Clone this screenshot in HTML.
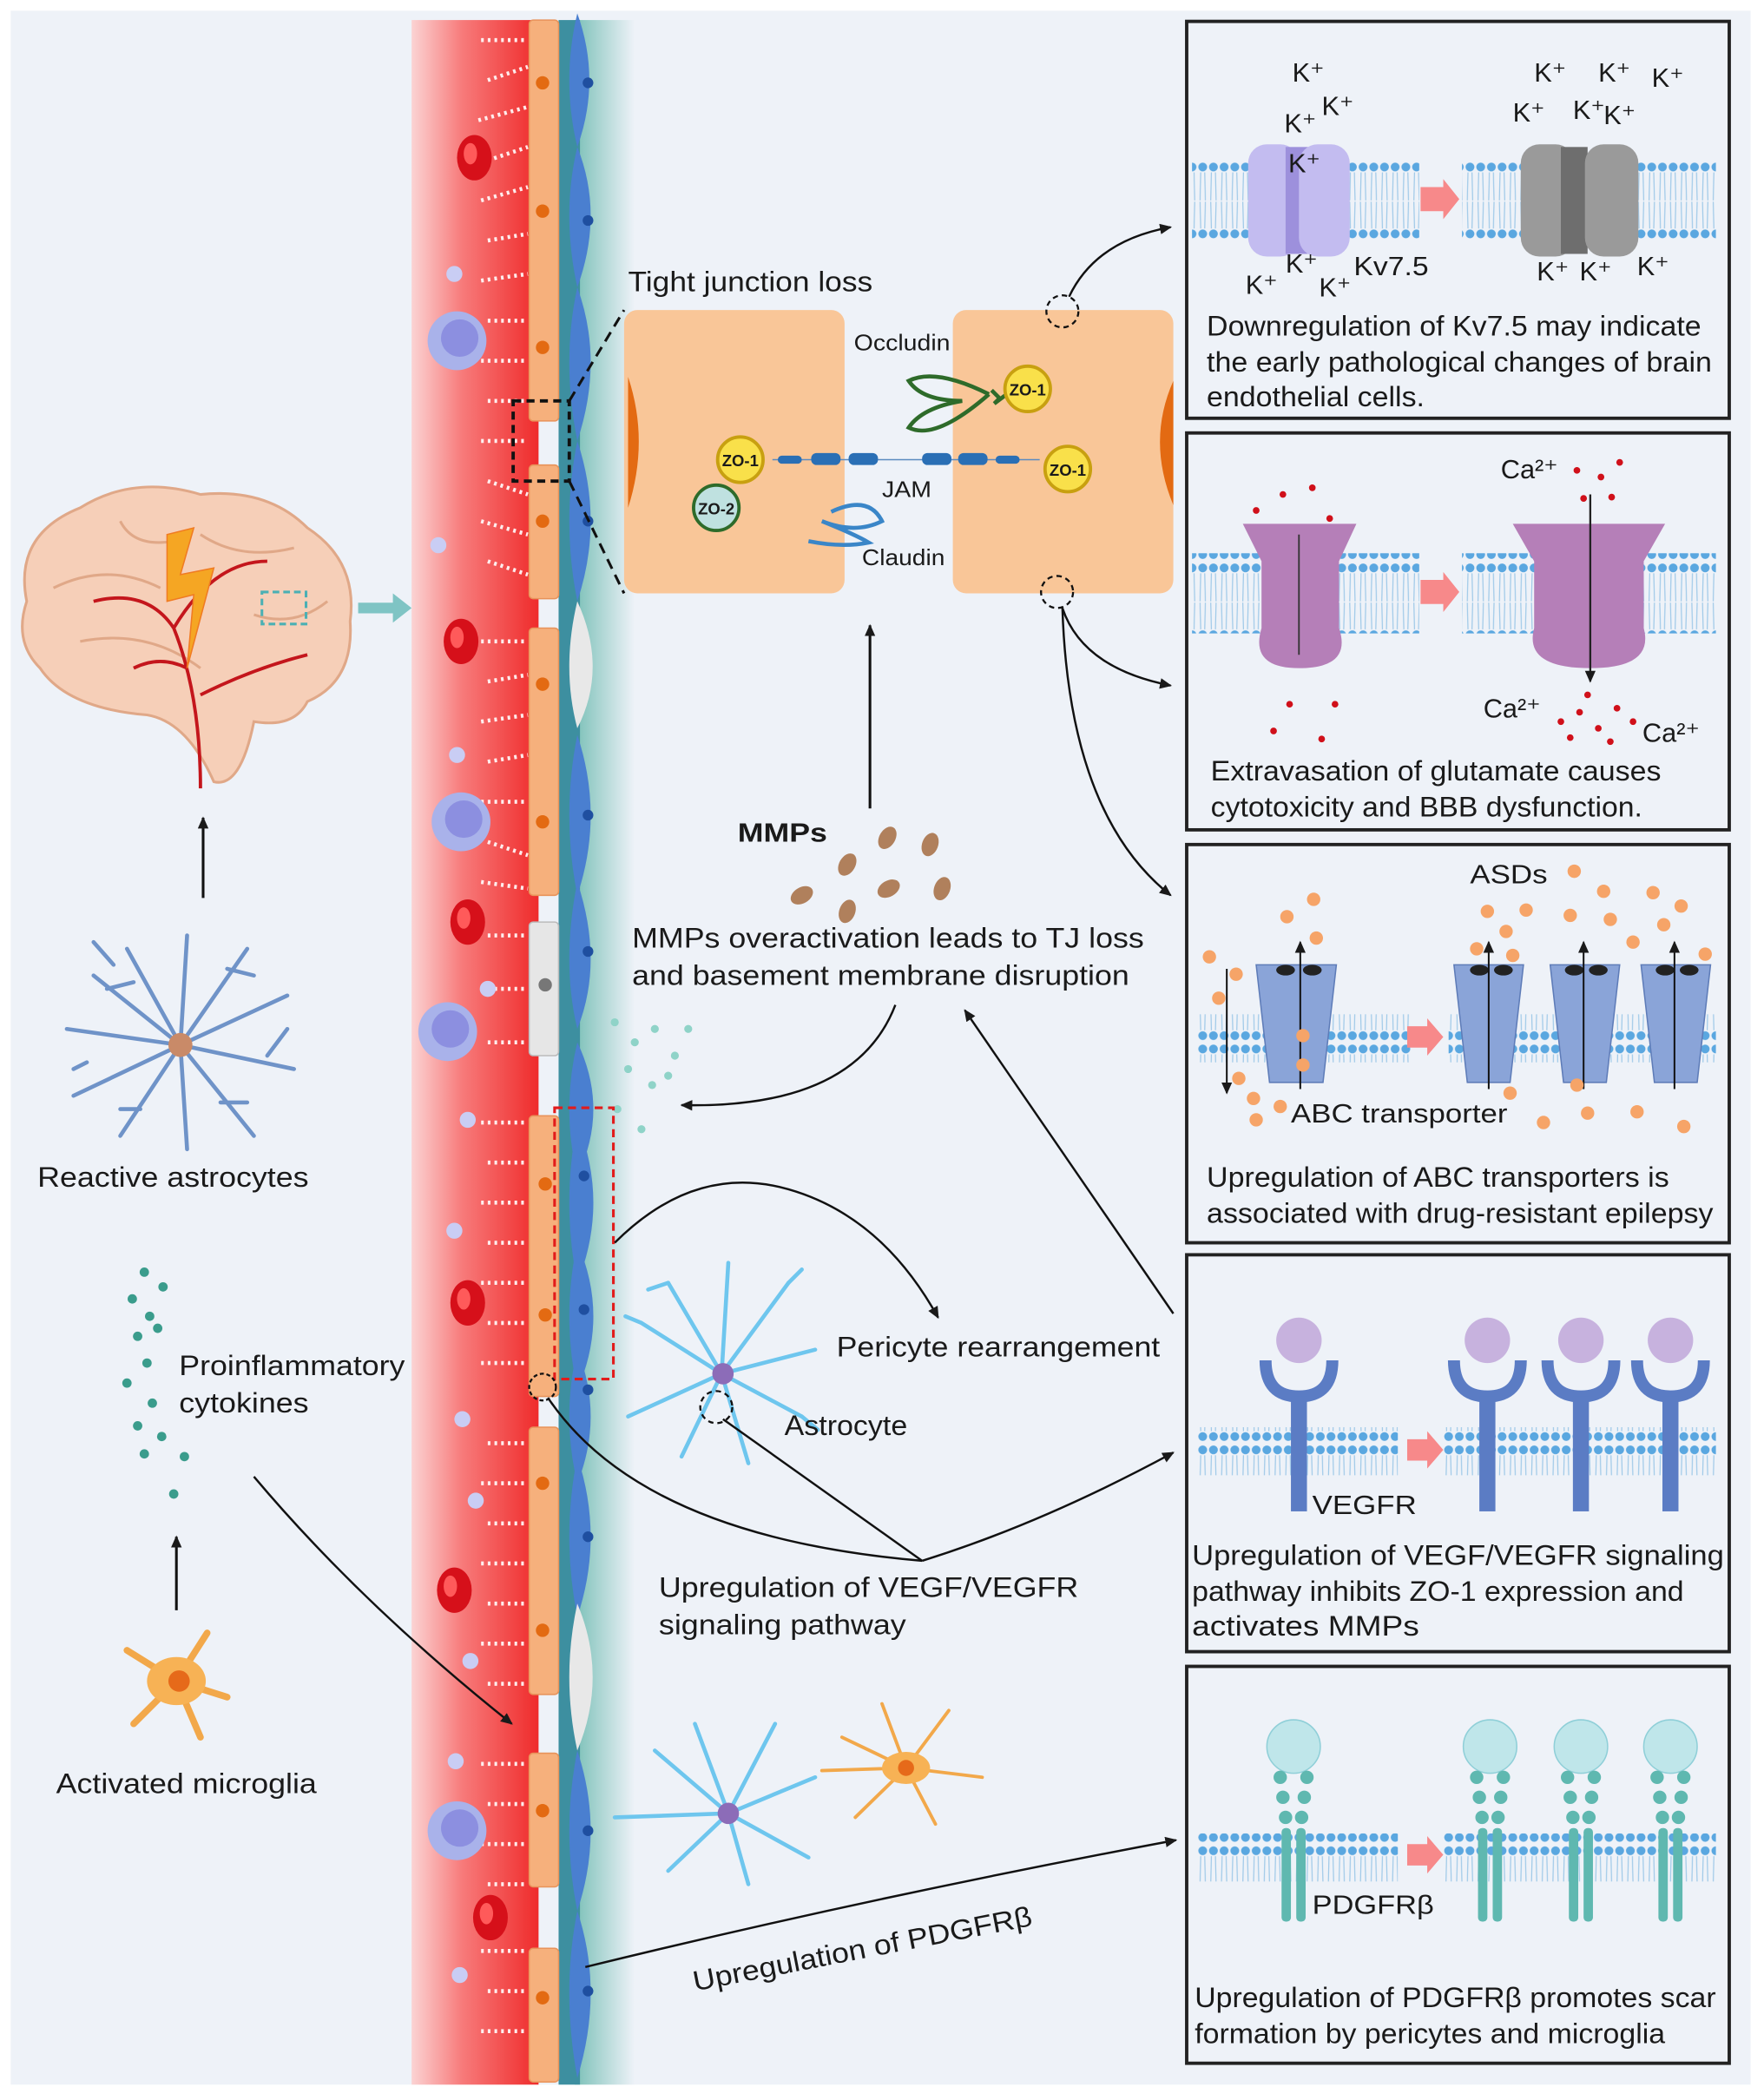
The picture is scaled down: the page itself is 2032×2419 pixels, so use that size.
<!DOCTYPE html>
<html><head><meta charset="utf-8">
<style>
html,body{margin:0;padding:0;background:#fff;}
svg{display:block;}
text{font-family:"Liberation Sans",Arial,sans-serif;fill:#1a1a1a;}
</style></head>
<body>
<svg width="2032" height="2419" viewBox="0 0 1320 1571.5" preserveAspectRatio="none" xmlns="http://www.w3.org/2000/svg">
<defs>
<linearGradient id="vessel" x1="0" x2="1" y1="0" y2="0">
<stop offset="0" stop-color="#fbd3d3"/><stop offset="0.4" stop-color="#f77a7a"/><stop offset="1" stop-color="#ef2b2b"/>
</linearGradient>
<linearGradient id="teal" x1="0" x2="1">
<stop offset="0" stop-color="#5fb4a8"/><stop offset="1" stop-color="#eef2f8"/>
</linearGradient>
<pattern id="mem" width="8" height="60" patternUnits="userSpaceOnUse">
<rect width="8" height="60" fill="none"/>
<circle cx="4" cy="5" r="3.3" fill="#5aa7e0"/>
<circle cx="4" cy="55" r="3.3" fill="#5aa7e0"/>
<path d="M2.5 9 L2 30 M5.5 9 L6 30 M2 31 L2.5 51 M6 31 L5.5 51" stroke="#9fc9e8" stroke-width="0.8"/>
</pattern>
<marker id="ah" markerWidth="10" markerHeight="10" refX="8" refY="4" orient="auto" markerUnits="userSpaceOnUse">
<path d="M0 0 L9 4 L0 8 Z" fill="#1a1a1a"/>
</marker>
<g id="rbc"><ellipse cx="0" cy="0" rx="13" ry="17" fill="#d6101a"/><ellipse cx="-3" cy="-3" rx="5" ry="8" fill="#ff5a5a"/></g>
<g id="wbc"><circle r="22" fill="#a9b2ea"/><circle r="14" cx="2" cy="-2" fill="#8c8fe0"/></g>
<g id="pd" fill="#5fb8b0"><circle cx="-10" cy="1330" r="5"/><circle cx="10" cy="1330" r="5"/><circle cx="-8" cy="1345" r="5"/><circle cx="8" cy="1345" r="5"/><circle cx="-6" cy="1360" r="5"/><circle cx="6" cy="1360" r="5"/><rect x="-9" y="1368" width="7" height="70" rx="3"/><rect x="2" y="1368" width="7" height="70" rx="3"/></g>
</defs>

<rect x="0" y="0" width="1320" height="1571.5" fill="#fff"/>
<rect x="8" y="8" width="1302" height="1552" fill="#eef2f8"/>

<!-- vessel -->
<rect x="308" y="15" width="95" height="1545" fill="url(#vessel)"/>
<rect x="430" y="15" width="45" height="1545" fill="url(#teal)" opacity="0.8"/>
<rect x="418" y="15" width="16" height="1545" fill="#3d8fa0"/>
<g fill="#f6b07c" stroke="#e8935a" stroke-width="1">
<rect x="396" y="15" width="22" height="300" rx="3"/>
<rect x="396" y="348" width="22" height="100" rx="3"/>
<rect x="396" y="470" width="22" height="200" rx="3"/>
<rect x="396" y="835" width="22" height="210" rx="3"/>
<rect x="396" y="1068" width="22" height="200" rx="3"/>
<rect x="396" y="1312" width="22" height="100" rx="3"/>
<rect x="396" y="1458" width="22" height="100" rx="3"/>
</g>
<rect x="396" y="690" width="22" height="100" rx="3" fill="#e6e6e6" stroke="#bbb"/>
<g fill="#e36a12">
<circle cx="406" cy="62" r="5"/><circle cx="406" cy="158" r="5"/><circle cx="406" cy="260" r="5"/>
<circle cx="406" cy="390" r="5"/><circle cx="406" cy="512" r="5"/><circle cx="406" cy="615" r="5"/>
<circle cx="408" cy="886" r="5"/><circle cx="408" cy="984" r="5"/><circle cx="406" cy="1110" r="5"/>
<circle cx="406" cy="1220" r="5"/><circle cx="406" cy="1355" r="5"/><circle cx="406" cy="1495" r="5"/>
</g>
<circle cx="408" cy="737" r="5" fill="#777"/>
<g fill="#4a7fd0">
<path d="M432 10 Q450 60 432 110 Q420 60 432 10Z"/>
<path d="M432 110 Q452 160 432 215 Q420 160 432 110Z"/>
<path d="M432 215 Q452 270 432 330 Q420 270 432 215Z"/>
<path d="M432 330 Q452 390 432 450 Q420 390 432 330Z"/>
<path d="M432 550 Q452 610 432 670 Q420 610 432 550Z"/>
<path d="M432 660 Q452 720 432 770 Q420 720 432 660Z"/>
<path d="M432 780 Q456 830 432 880 Q420 830 432 780Z"/>
<path d="M432 840 Q456 900 432 960 Q420 900 432 840Z"/>
<path d="M432 930 Q456 985 432 1040 Q420 985 432 930Z"/>
<path d="M432 1010 Q452 1060 432 1110 Q420 1060 432 1010Z"/>
<path d="M432 1090 Q452 1150 432 1210 Q420 1150 432 1090Z"/>
<path d="M432 1310 Q452 1370 432 1430 Q420 1370 432 1310Z"/>
<path d="M432 1430 Q452 1490 432 1555 Q420 1490 432 1430Z"/>
</g>
<g fill="#e8e8e8"><path d="M432 450 Q455 500 432 545 Q420 500 432 450Z"/><path d="M432 1200 Q455 1255 432 1310 Q420 1255 432 1200Z"/></g>
<g fill="#1f4fa0">
<circle cx="440" cy="62" r="4"/><circle cx="440" cy="165" r="4"/><circle cx="440" cy="390" r="4"/><circle cx="440" cy="610" r="4"/><circle cx="440" cy="712" r="4"/><circle cx="437" cy="880" r="4"/><circle cx="437" cy="980" r="4"/><circle cx="440" cy="1040" r="4"/><circle cx="440" cy="1150" r="4"/><circle cx="440" cy="1370" r="4"/><circle cx="440" cy="1490" r="4"/>
</g>
<g stroke="#fff" stroke-width="3" stroke-dasharray="2 3" fill="none" opacity="0.9">
<path d="M360 30 L395 30 M365 60 L395 50 M358 90 L395 80 M365 120 L395 110 M360 150 L395 140 M365 180 L395 175 M360 210 L395 205 M365 240 L395 240 M360 270 L395 270 M365 300 L395 300 M360 330 L395 330 M365 360 L395 370 M360 390 L395 400 M365 420 L395 430"/>
<path d="M360 480 L395 480 M365 510 L395 505 M360 540 L395 535 M365 570 L395 565 M360 600 L395 600 M365 630 L395 640 M360 660 L395 665 M365 700 L395 700 M360 740 L395 740 M365 780 L395 780"/>
<path d="M360 840 L395 840 M365 870 L395 870 M360 900 L395 900 M365 930 L395 930 M360 960 L395 960 M365 990 L395 990 M360 1020 L395 1020 M365 1080 L395 1080 M360 1110 L395 1110 M365 1140 L395 1140 M360 1170 L395 1170 M365 1200 L395 1200 M360 1230 L395 1230 M365 1260 L395 1260"/>
<path d="M360 1320 L395 1320 M365 1350 L395 1350 M360 1380 L395 1380 M365 1410 L395 1410 M360 1460 L395 1460 M365 1490 L395 1490 M360 1520 L395 1520"/>
</g>
<use href="#rbc" x="355" y="118"/><use href="#rbc" x="345" y="480"/><use href="#rbc" x="350" y="690"/><use href="#rbc" x="350" y="975"/><use href="#rbc" x="340" y="1190"/><use href="#rbc" x="367" y="1435"/>
<use href="#wbc" x="342" y="255"/><use href="#wbc" x="345" y="615"/><use href="#wbc" x="335" y="772"/><use href="#wbc" x="342" y="1370"/>
<g fill="#c9cdf4"><circle cx="340" cy="205" r="6"/><circle cx="328" cy="408" r="6"/><circle cx="342" cy="565" r="6"/><circle cx="365" cy="740" r="6"/><circle cx="350" cy="838" r="6"/><circle cx="340" cy="921" r="6"/><circle cx="346" cy="1062" r="6"/><circle cx="356" cy="1123" r="6"/><circle cx="352" cy="1243" r="6"/><circle cx="341" cy="1318" r="6"/><circle cx="344" cy="1478" r="6"/></g>
<g fill="#8fd3c8"><circle cx="460" cy="765" r="3"/><circle cx="475" cy="780" r="3"/><circle cx="490" cy="770" r="3"/><circle cx="505" cy="790" r="3"/><circle cx="470" cy="800" r="3"/><circle cx="488" cy="812" r="3"/><circle cx="515" cy="770" r="3"/><circle cx="500" cy="805" r="3"/><circle cx="462" cy="830" r="3"/><circle cx="480" cy="845" r="3"/></g>

<rect x="384" y="300" width="42" height="60" fill="none" stroke="#111" stroke-width="2.5" stroke-dasharray="6 4"/>
<rect x="415" y="829" width="44" height="203" fill="none" stroke="#e21b1b" stroke-width="2" stroke-dasharray="6 4"/>
<circle cx="406" cy="1038" r="10" fill="none" stroke="#111" stroke-width="1.5" stroke-dasharray="3 2"/>

<!-- brain -->
<g>
<path d="M20 450 Q10 400 60 380 Q100 355 150 370 Q200 365 230 395 Q268 420 262 465 Q265 510 230 525 Q220 545 190 540 Q180 590 160 585 Q140 540 110 535 Q50 530 30 500 Q10 480 20 450Z" fill="#f6cfb8" stroke="#e0a888" stroke-width="2"/>
<path d="M40 440 Q80 420 120 440 M60 480 Q110 470 150 500 M150 400 Q180 420 220 410 M190 460 Q220 470 245 450 M90 390 Q100 410 130 405" stroke="#e0a888" stroke-width="2" fill="none"/>
<path d="M150 590 Q150 520 130 470 Q110 440 70 450 M130 470 Q160 420 200 420 M150 520 Q190 500 230 490 M100 500 Q120 490 140 500" stroke="#c4161c" stroke-width="2.5" fill="none"/>
<path d="M125 400 L145 395 L135 430 L160 425 L140 500 L145 445 L125 450Z" fill="#f5a623" stroke="#f07b22"/>
<rect x="196" y="443" width="33" height="24" fill="none" stroke="#4bb0b4" stroke-width="2" stroke-dasharray="5 3"/>
</g>
<path d="M268 455 L298 455" stroke="#7fc4c4" stroke-width="8"/><path d="M294 444 L308 455 L294 466Z" fill="#7fc4c4"/>
<line x1="152" y1="672" x2="152" y2="612" stroke="#111" stroke-width="2" marker-end="url(#ah)"/>

<g stroke="#6f93c8" stroke-width="3" fill="none" stroke-linecap="round">
<path d="M135 782 L70 730 M135 782 L95 710 M135 782 L140 700 M135 782 L185 710 M135 782 L215 745 M135 782 L220 800 M135 782 L190 850 M135 782 L140 860 M135 782 L90 850 M135 782 L55 820 M135 782 L50 770"/>
<path d="M85 722 L70 705 M100 735 L80 740 M170 725 L190 730 M200 790 L215 770 M165 825 L185 825 M105 830 L90 830 M65 795 L55 800"/>
</g>
<circle cx="135" cy="782" r="9" fill="#c98a68"/>
<text x="28" y="888" font-size="21" textLength="203" lengthAdjust="spacingAndGlyphs">Reactive astrocytes</text>

<g fill="#3a9c8c"><circle cx="108" cy="952" r="3.5"/><circle cx="122" cy="963" r="3.5"/><circle cx="99" cy="972" r="3.5"/><circle cx="112" cy="985" r="3.5"/><circle cx="103" cy="1000" r="3.5"/><circle cx="118" cy="994" r="3.5"/><circle cx="110" cy="1020" r="3.5"/><circle cx="95" cy="1035" r="3.5"/><circle cx="114" cy="1050" r="3.5"/><circle cx="103" cy="1067" r="3.5"/><circle cx="121" cy="1075" r="3.5"/><circle cx="108" cy="1088" r="3.5"/><circle cx="138" cy="1090" r="3.5"/><circle cx="130" cy="1118" r="3.5"/></g>
<text x="134" y="1029" font-size="21" textLength="169" lengthAdjust="spacingAndGlyphs">Proinflammatory</text>
<text x="134" y="1057" font-size="21" textLength="97" lengthAdjust="spacingAndGlyphs">cytokines</text>
<line x1="132" y1="1205" x2="132" y2="1150" stroke="#111" stroke-width="2" marker-end="url(#ah)"/>
<g stroke="#f2a84a" stroke-width="5" fill="none" stroke-linecap="round"><path d="M132 1258 L95 1235 M132 1258 L155 1222 M132 1258 L170 1270 M132 1258 L150 1300 M132 1258 L100 1290"/></g>
<ellipse cx="132" cy="1258" rx="22" ry="18" fill="#f7b255"/><circle cx="134" cy="1258" r="8" fill="#e66a1a"/>
<text x="42" y="1342" font-size="21" textLength="195" lengthAdjust="spacingAndGlyphs">Activated microglia</text>
<path d="M190 1105 Q270 1200 383 1290" stroke="#111" stroke-width="1.6" fill="none" marker-end="url(#ah)"/>

<!-- tight junction inset -->
<line x1="426" y1="300" x2="467" y2="232" stroke="#111" stroke-width="2" stroke-dasharray="8 5"/>
<line x1="426" y1="360" x2="467" y2="444" stroke="#111" stroke-width="2" stroke-dasharray="8 5"/>
<text x="470" y="218" font-size="21" textLength="183" lengthAdjust="spacingAndGlyphs">Tight junction loss</text>
<rect x="467" y="232" width="165" height="212" rx="10" fill="#f9c698"/>
<rect x="713" y="232" width="165" height="212" rx="10" fill="#f9c698"/>
<path d="M470 282 Q486 330 470 380Z" fill="#e36a12"/>
<path d="M878 285 Q858 330 878 378Z" fill="#e36a12"/>
<text x="639" y="262" font-size="17" textLength="72" lengthAdjust="spacingAndGlyphs">Occludin</text>
<path d="M740 295 Q700 275 680 285 Q690 300 720 300 Q690 305 680 320 Q700 330 740 295 M742 292 L748 298 L744 302 L752 296" stroke="#2e6b2a" stroke-width="3" fill="none"/>
<line x1="578" y1="344" x2="778" y2="344" stroke="#5a8ac0" stroke-width="1"/>
<g fill="#2a6fb5"><rect x="582" y="341" width="18" height="6" rx="3"/><rect x="607" y="339" width="22" height="9" rx="4"/><rect x="635" y="339" width="22" height="9" rx="4"/><rect x="690" y="339" width="22" height="9" rx="4"/><rect x="717" y="339" width="22" height="9" rx="4"/><rect x="745" y="341" width="18" height="6" rx="3"/></g>
<text x="660" y="372" font-size="17" textLength="37" lengthAdjust="spacingAndGlyphs">JAM</text>
<path d="M622 383 Q650 370 660 390 Q640 400 615 390 Q640 400 650 406 Q630 410 605 405" stroke="#3a86c8" stroke-width="3" fill="none"/>
<text x="645" y="423" font-size="17" textLength="62" lengthAdjust="spacingAndGlyphs">Claudin</text>
<g stroke="#c8a010" stroke-width="2.5" fill="#f9e04a">
<circle cx="554" cy="344" r="17"/><circle cx="769" cy="291" r="17"/><circle cx="799" cy="351" r="17"/>
</g>
<circle cx="536" cy="380" r="17" fill="#bfe1e0" stroke="#2e6b2a" stroke-width="2.5"/>
<g font-size="12" font-weight="bold" text-anchor="middle"><text x="554" y="349">ZO-1</text><text x="769" y="296">ZO-1</text><text x="799" y="356">ZO-1</text><text x="536" y="385">ZO-2</text></g>
<circle cx="795" cy="233" r="12" fill="none" stroke="#111" stroke-width="1.5" stroke-dasharray="4 3"/>
<circle cx="791" cy="443" r="12" fill="none" stroke="#111" stroke-width="1.5" stroke-dasharray="4 3"/>
<path d="M800 222 Q820 180 876 170" stroke="#111" stroke-width="1.6" fill="none" marker-end="url(#ah)"/>
<path d="M795 455 Q810 500 876 513" stroke="#111" stroke-width="1.6" fill="none" marker-end="url(#ah)"/>
<path d="M795 455 Q800 610 876 670" stroke="#111" stroke-width="1.6" fill="none" marker-end="url(#ah)"/>

<!-- MMPs -->
<line x1="651" y1="605" x2="651" y2="468" stroke="#111" stroke-width="2" marker-end="url(#ah)"/>
<text x="552" y="630" font-size="20" font-weight="bold" textLength="67" lengthAdjust="spacingAndGlyphs">MMPs</text>
<g fill="#b0805c"><ellipse cx="664" cy="627" rx="6" ry="9" transform="rotate(30 664 627)"/><ellipse cx="696" cy="632" rx="6" ry="9" transform="rotate(20 696 632)"/><ellipse cx="634" cy="647" rx="6" ry="9" transform="rotate(30 634 647)"/><ellipse cx="665" cy="665" rx="6" ry="9" transform="rotate(60 665 665)"/><ellipse cx="705" cy="665" rx="6" ry="9" transform="rotate(20 705 665)"/><ellipse cx="600" cy="670" rx="6" ry="9" transform="rotate(60 600 670)"/><ellipse cx="634" cy="682" rx="6" ry="9" transform="rotate(20 634 682)"/></g>
<text x="473" y="709" font-size="21" textLength="383" lengthAdjust="spacingAndGlyphs">MMPs overactivation leads to TJ loss</text>
<text x="473" y="737" font-size="21" textLength="372" lengthAdjust="spacingAndGlyphs">and basement membrane disruption</text>
<path d="M670 752 Q640 830 510 827" stroke="#111" stroke-width="1.6" fill="none" marker-end="url(#ah)"/>
<line x1="878" y1="983" x2="722" y2="756" stroke="#111" stroke-width="1.6" marker-end="url(#ah)"/>

<path d="M460 930 Q520 870 590 890 Q660 910 702 986" stroke="#111" stroke-width="1.6" fill="none" marker-end="url(#ah)"/>
<text x="626" y="1015" font-size="21" textLength="242" lengthAdjust="spacingAndGlyphs">Pericyte rearrangement</text>
<g stroke="#6ec6ee" stroke-width="3" fill="none" stroke-linecap="round">
<path d="M540 1028 L480 990 M540 1028 L500 960 M540 1028 L545 945 M540 1028 L590 960 M540 1028 L610 1010 M540 1028 L600 1060 M540 1028 L560 1095 M540 1028 L510 1090 M540 1028 L470 1060"/>
<path d="M500 960 L485 965 M590 960 L600 950 M600 1060 L612 1070 M480 990 L468 985"/>
</g>
<circle cx="541" cy="1028" r="8" fill="#8c6cb8"/>
<circle cx="536" cy="1053" r="12" fill="none" stroke="#111" stroke-width="1.5" stroke-dasharray="4 3"/>
<text x="587" y="1074" font-size="21" textLength="92" lengthAdjust="spacingAndGlyphs">Astrocyte</text>
<path d="M410 1046 Q480 1150 690 1168" stroke="#111" stroke-width="1.6" fill="none"/>
<line x1="541" y1="1062" x2="690" y2="1168" stroke="#111" stroke-width="1.6"/>
<path d="M690 1168 Q780 1140 878 1087" stroke="#111" stroke-width="1.6" fill="none" marker-end="url(#ah)"/>
<text x="493" y="1195" font-size="21" textLength="314" lengthAdjust="spacingAndGlyphs">Upregulation of VEGF/VEGFR</text>
<text x="493" y="1223" font-size="21" textLength="185" lengthAdjust="spacingAndGlyphs">signaling pathway</text>

<g stroke="#6ec6ee" stroke-width="3" fill="none" stroke-linecap="round">
<path d="M545 1357 L490 1310 M545 1357 L520 1290 M545 1357 L580 1290 M545 1357 L610 1330 M545 1357 L605 1390 M545 1357 L560 1410 M545 1357 L500 1400 M545 1357 L460 1360"/>
</g>
<circle cx="545" cy="1357" r="8" fill="#8c6cb8"/>
<g stroke="#f2a84a" stroke-width="2.5" fill="none" stroke-linecap="round"><path d="M678 1323 L630 1300 M678 1323 L660 1275 M678 1323 L710 1280 M678 1323 L735 1330 M678 1323 L700 1365 M678 1323 L640 1360 M678 1323 L615 1325"/></g>
<ellipse cx="678" cy="1323" rx="18" ry="12" fill="#f7b255"/><circle cx="678" cy="1323" r="6" fill="#e66a1a"/>
<path d="M438 1472 Q650 1420 880 1377" stroke="#111" stroke-width="1.6" fill="none" marker-end="url(#ah)"/>
<text x="520" y="1490" font-size="21" transform="rotate(-11 520 1490)" textLength="258" lengthAdjust="spacingAndGlyphs">Upregulation of PDGFRβ</text>

<!-- right boxes -->
<g fill="#eef2f8" stroke="#222" stroke-width="2.5">
<rect x="888" y="16" width="406" height="297"/>
<rect x="888" y="324" width="406" height="297"/>
<rect x="888" y="632" width="406" height="298"/>
<rect x="888" y="939" width="406" height="297"/>
<rect x="888" y="1247" width="406" height="297"/>
</g>
<g fill="url(#mem)">
<rect x="892" y="120" width="170" height="60"/><rect x="1094" y="120" width="190" height="60"/>
<rect x="892" y="414" width="170" height="60"/><rect x="1094" y="414" width="190" height="60"/>
<rect x="896" y="759" width="160" height="36"/><rect x="1084" y="759" width="200" height="36"/>
<rect x="896" y="1068" width="150" height="36"/><rect x="1080" y="1068" width="204" height="36"/>
<rect x="896" y="1372" width="150" height="36"/><rect x="1080" y="1372" width="204" height="36"/>
</g>
<g fill="#f7898a"><path d="M1063 140 L1080 140 L1080 134 L1092 149 L1080 164 L1080 158 L1063 158Z"/><path d="M1063 434 L1080 434 L1080 428 L1092 443 L1080 458 L1080 452 L1063 452Z"/><path d="M1053 768 L1068 768 L1068 762 L1080 776 L1068 790 L1068 784 L1053 784Z"/><path d="M1053 1077 L1068 1077 L1068 1071 L1080 1085 L1068 1099 L1068 1093 L1053 1093Z"/><path d="M1053 1380 L1068 1380 L1068 1374 L1080 1388 L1068 1402 L1068 1396 L1053 1396Z"/></g>

<rect x="934" y="108" width="38" height="84" rx="14" fill="#c3bcf0"/><rect x="962" y="110" width="18" height="80" fill="#9d90dc"/><rect x="972" y="108" width="38" height="84" rx="14" fill="#c3bcf0"/>
<rect x="1138" y="108" width="40" height="84" rx="14" fill="#9a9a9a"/><rect x="1168" y="110" width="20" height="80" fill="#6e6e6e"/><rect x="1186" y="108" width="40" height="84" rx="14" fill="#9a9a9a"/>
<g font-size="20">
<text x="967" y="61">K⁺</text><text x="961" y="99">K⁺</text><text x="989" y="86">K⁺</text><text x="964" y="129">K⁺</text>
<text x="962" y="204">K⁺</text><text x="932" y="220">K⁺</text><text x="987" y="222">K⁺</text><text x="1013" y="206" textLength="56" lengthAdjust="spacingAndGlyphs">Kv7.5</text>
<text x="1148" y="61">K⁺</text><text x="1196" y="61">K⁺</text><text x="1236" y="65">K⁺</text><text x="1132" y="91">K⁺</text><text x="1177" y="89">K⁺</text><text x="1200" y="93">K⁺</text>
<text x="1150" y="210">K⁺</text><text x="1182" y="210">K⁺</text><text x="1225" y="206">K⁺</text>
</g>
<g font-size="21" lengthAdjust="spacingAndGlyphs"><text x="903" y="251" textLength="370" lengthAdjust="spacingAndGlyphs">Downregulation of Kv7.5 may indicate</text><text x="903" y="278" textLength="378" lengthAdjust="spacingAndGlyphs">the early pathological changes of brain</text><text x="903" y="304" textLength="163" lengthAdjust="spacingAndGlyphs">endothelial cells.</text></g>

<path d="M930 392 L1015 392 L1002 420 L1002 470 Q1012 500 972 500 Q935 500 944 470 L944 420Z" fill="#b57fb8"/>
<path d="M1132 392 L1246 392 L1230 420 L1230 470 Q1238 500 1190 500 Q1140 500 1148 470 L1148 420Z" fill="#b57fb8"/>
<line x1="972" y1="400" x2="972" y2="490" stroke="#333" stroke-width="1.2"/>
<line x1="1190" y1="370" x2="1190" y2="510" stroke="#222" stroke-width="1.5" marker-end="url(#ah)"/>
<g fill="#d0101a"><circle cx="940" cy="382" r="2.5"/><circle cx="960" cy="370" r="2.5"/><circle cx="982" cy="365" r="2.5"/><circle cx="995" cy="388" r="2.5"/><circle cx="965" cy="527" r="2.5"/><circle cx="953" cy="547" r="2.5"/><circle cx="999" cy="527" r="2.5"/><circle cx="989" cy="553" r="2.5"/>
<circle cx="1180" cy="352" r="2.5"/><circle cx="1198" cy="357" r="2.5"/><circle cx="1212" cy="346" r="2.5"/><circle cx="1185" cy="373" r="2.5"/><circle cx="1206" cy="372" r="2.5"/><circle cx="1168" cy="540" r="2.5"/><circle cx="1182" cy="533" r="2.5"/><circle cx="1196" cy="545" r="2.5"/><circle cx="1210" cy="530" r="2.5"/><circle cx="1175" cy="552" r="2.5"/><circle cx="1205" cy="555" r="2.5"/><circle cx="1222" cy="540" r="2.5"/><circle cx="1188" cy="520" r="2.5"/></g>
<g font-size="20"><text x="1123" y="358">Ca²⁺</text><text x="1110" y="537">Ca²⁺</text><text x="1229" y="555">Ca²⁺</text></g>
<g font-size="21"><text x="906" y="584" textLength="337" lengthAdjust="spacingAndGlyphs">Extravasation of glutamate causes</text><text x="906" y="611" textLength="323" lengthAdjust="spacingAndGlyphs">cytotoxicity and BBB dysfunction.</text></g>

<g fill="#8aa4d8" stroke="#5e7cb8" stroke-width="1">
<path d="M940 722 L1000 722 L990 810 L950 810Z"/>
<path d="M1088 722 L1140 722 L1130 810 L1098 810Z"/>
<path d="M1160 722 L1212 722 L1202 810 L1170 810Z"/>
<path d="M1228 722 L1280 722 L1270 810 L1238 810Z"/>
</g>
<g fill="#222"><ellipse cx="962" cy="726" rx="7" ry="4"/><ellipse cx="982" cy="726" rx="7" ry="4"/><ellipse cx="1107" cy="726" rx="7" ry="4"/><ellipse cx="1125" cy="726" rx="7" ry="4"/><ellipse cx="1178" cy="726" rx="7" ry="4"/><ellipse cx="1196" cy="726" rx="7" ry="4"/><ellipse cx="1246" cy="726" rx="7" ry="4"/><ellipse cx="1264" cy="726" rx="7" ry="4"/></g>
<g stroke="#111" stroke-width="1.3" marker-end="url(#ah)"><line x1="918" y1="725" x2="918" y2="818"/><line x1="973" y1="815" x2="973" y2="705"/><line x1="1114" y1="815" x2="1114" y2="705"/><line x1="1185" y1="815" x2="1185" y2="705"/><line x1="1253" y1="815" x2="1253" y2="705"/></g>
<g fill="#f6a468"><circle cx="963" cy="686" r="5"/><circle cx="983" cy="673" r="5"/><circle cx="985" cy="702" r="5"/><circle cx="905" cy="716" r="5"/><circle cx="925" cy="729" r="5"/><circle cx="912" cy="747" r="5"/><circle cx="975" cy="775" r="5"/><circle cx="975" cy="797" r="5"/><circle cx="927" cy="807" r="5"/><circle cx="938" cy="822" r="5"/><circle cx="958" cy="828" r="5"/><circle cx="940" cy="838" r="5"/>
<circle cx="1113" cy="682" r="5"/><circle cx="1142" cy="681" r="5"/><circle cx="1127" cy="697" r="5"/><circle cx="1105" cy="710" r="5"/><circle cx="1132" cy="715" r="5"/><circle cx="1178" cy="652" r="5"/><circle cx="1200" cy="667" r="5"/><circle cx="1175" cy="685" r="5"/><circle cx="1205" cy="688" r="5"/><circle cx="1222" cy="705" r="5"/><circle cx="1237" cy="668" r="5"/><circle cx="1258" cy="678" r="5"/><circle cx="1245" cy="692" r="5"/><circle cx="1276" cy="714" r="5"/>
<circle cx="1180" cy="812" r="5"/><circle cx="1155" cy="840" r="5"/><circle cx="1188" cy="833" r="5"/><circle cx="1225" cy="832" r="5"/><circle cx="1260" cy="843" r="5"/><circle cx="1130" cy="818" r="5"/></g>
<text x="1100" y="661" font-size="20" textLength="58" lengthAdjust="spacingAndGlyphs">ASDs</text>
<text x="966" y="840" font-size="20" textLength="162" lengthAdjust="spacingAndGlyphs">ABC transporter</text>
<g font-size="21"><text x="903" y="888" textLength="346" lengthAdjust="spacingAndGlyphs">Upregulation of ABC transporters is</text><text x="903" y="915" textLength="379" lengthAdjust="spacingAndGlyphs">associated with drug-resistant epilepsy</text></g>

<g fill="#c7b2de"><circle cx="972" cy="1003" r="17"/><circle cx="1113" cy="1003" r="17"/><circle cx="1183" cy="1003" r="17"/><circle cx="1250" cy="1003" r="17"/></g>
<g fill="none" stroke="#5b7cc4" stroke-width="9"><path d="M947 1018 Q947 1045 972 1045 Q997 1045 997 1018"/><path d="M1088 1018 Q1088 1045 1113 1045 Q1138 1045 1138 1018"/><path d="M1158 1018 Q1158 1045 1183 1045 Q1208 1045 1208 1018"/><path d="M1225 1018 Q1225 1045 1250 1045 Q1275 1045 1275 1018"/></g>
<g fill="#5b7cc4"><rect x="966" y="1045" width="12" height="86"/><rect x="1107" y="1045" width="12" height="86"/><rect x="1177" y="1045" width="12" height="86"/><rect x="1244" y="1045" width="12" height="86"/></g>
<text x="982" y="1133" font-size="20" textLength="78" lengthAdjust="spacingAndGlyphs">VEGFR</text>
<g font-size="21"><text x="892" y="1171" textLength="398" lengthAdjust="spacingAndGlyphs">Upregulation of VEGF/VEGFR  signaling</text><text x="892" y="1198" textLength="368" lengthAdjust="spacingAndGlyphs">pathway inhibits ZO-1 expression and</text><text x="892" y="1224" textLength="170" lengthAdjust="spacingAndGlyphs">activates MMPs</text></g>

<g fill="#bfe6ea" stroke="#8fcfd8" stroke-width="1"><circle cx="968" cy="1307" r="20"/><circle cx="1115" cy="1307" r="20"/><circle cx="1183" cy="1307" r="20"/><circle cx="1250" cy="1307" r="20"/></g>
<use href="#pd" x="968"/><use href="#pd" x="1115"/><use href="#pd" x="1183"/><use href="#pd" x="1250"/>
<text x="982" y="1432" font-size="20" textLength="91" lengthAdjust="spacingAndGlyphs">PDGFRβ</text>
<g font-size="21"><text x="894" y="1502" textLength="390" lengthAdjust="spacingAndGlyphs">Upregulation of PDGFRβ promotes scar</text><text x="894" y="1529" textLength="352" lengthAdjust="spacingAndGlyphs">formation by pericytes and microglia</text></g>
</svg>
</body></html>
